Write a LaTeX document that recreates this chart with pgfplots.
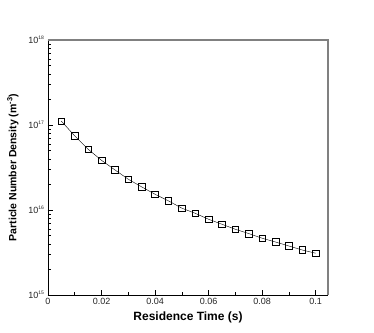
\documentclass[border=0pt]{standalone}
\usepackage{fontspec}
\setmainfont{Liberation Sans}
\usepackage{pgfplots}
\pgfplotsset{compat=1.18}

\begin{document}
\begin{tikzpicture}
\path[fill=white] (-48pt,-37pt) rectangle (326pt,295pt);
\begin{axis}[
    at={(0,0)}, anchor=south west,
    scale only axis,
    width=280pt, height=255pt,
    ymode=log,
    xmin=0, xmax=0.1046,
    ymin=1e15, ymax=1e18,
    axis x line*=bottom, axis y line*=left,
    axis line style={line width=0.8pt},
    tick align=inside,
    major tick length=5pt, minor tick length=3pt,
    tick style={black, line width=0.6pt},
    xtick={0,0.02,0.04,0.06,0.08,0.1},
    minor xtick={0.01,0.03,0.05,0.07,0.09},
    xticklabels={0,0.02,0.04,0.06,0.08,0.1},
    yticklabels={10\textsuperscript{\tiny 15},10\textsuperscript{\tiny 16},10\textsuperscript{\tiny 17},10\textsuperscript{\tiny 18}},
    ticklabel style={font=\fontsize{9}{10}\selectfont, text=black!85},
    xlabel={\textbf{Residence Time (s)}},
    ylabel={\textbf{Particle Number Density (m\textsuperscript{-3})}},
    xlabel style={font=\fontsize{12}{14}\selectfont, yshift=0pt},
    ylabel style={font=\fontsize{10.5}{12}\selectfont, yshift=3pt},
    clip=false,
]
\addplot[black, line width=0.4pt, mark=square, mark size=3.3pt, mark options={line width=0.6pt, fill=white}] coordinates {
(0.005,1.11e17) (0.010,7.43e16) (0.015,5.18e16) (0.020,3.84e16)
(0.025,2.96e16) (0.030,2.30e16) (0.035,1.87e16) (0.040,1.53e16)
(0.045,1.28e16) (0.050,1.05e16) (0.055,9.14e15) (0.060,7.78e15)
(0.065,6.79e15) (0.070,5.93e15) (0.075,5.28e15) (0.080,4.65e15)
(0.085,4.20e15) (0.090,3.77e15) (0.095,3.38e15) (0.100,3.10e15)
};
\draw[gray, line width=1.4pt] (rel axis cs:0,1) -- (rel axis cs:1,1) -- (rel axis cs:1,0);
\end{axis}
\end{tikzpicture}
\end{document}
